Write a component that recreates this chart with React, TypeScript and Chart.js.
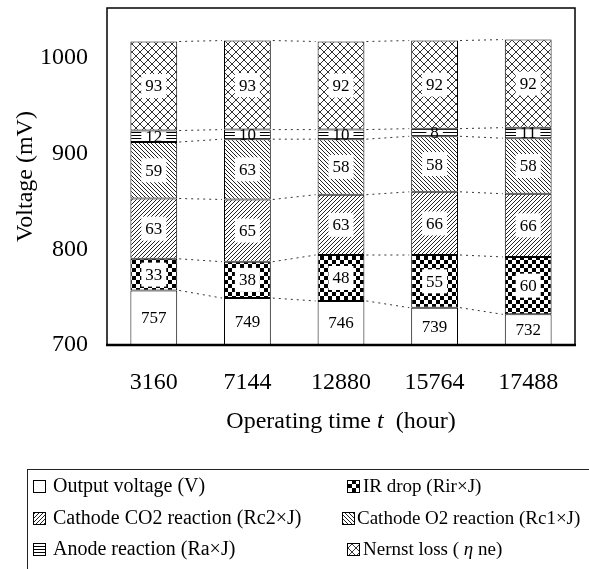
import React, { useEffect, useRef } from 'react';
import { Chart, registerables } from 'chart.js';

Chart.register(...registerables);

const categories = ['3160', '7144', '12880', '15764', '17488'];
const outputVoltage = [757, 749, 746, 739, 732];
const irDrop = [33, 38, 48, 55, 60];
const cathodeCO2 = [63, 65, 63, 66, 66];
const cathodeO2 = [59, 63, 58, 58, 58];
const anodeReaction = [12, 10, 10, 8, 11];
const nernstLoss = [93, 93, 92, 92, 92];
const seriesNames = [
  'Output voltage (V)',
  'IR drop (Rir×J)',
  'Cathode CO2 reaction (Rc2×J)',
  'Cathode O2 reaction (Rc1×J)',
  'Anode reaction (Ra×J)',
  'Nernst loss ( η ne)',
];
const yTickValues = [700, 800, 900, 1000];
const yMin = 700;
const yMax = 1052;
const xTitleParts = [
  { text: 'Operating time ', italic: false },
  { text: 't', italic: true },
  { text: '  (hour)', italic: false },
];
const yTitle = 'Voltage (mV)';

const FONT = '"Liberation Serif", "Times New Roman", serif';

function makePattern(kind: string): CanvasPattern | string {
  if (kind === 'white') return '#ffffff';
  const c = document.createElement('canvas');
  const x = c.getContext('2d') as CanvasRenderingContext2D;
  if (kind === 'checker') {
    c.width = 8; c.height = 8;
    x.fillStyle = '#fff'; x.fillRect(0, 0, 8, 8);
    x.fillStyle = '#000'; x.fillRect(0, 0, 4, 4); x.fillRect(4, 4, 4, 4);
  } else if (kind === 'fwd' || kind === 'back') {
    c.width = 4; c.height = 4;
    x.fillStyle = '#fff'; x.fillRect(0, 0, 4, 4);
    x.strokeStyle = '#222'; x.lineWidth = 1;
    x.beginPath();
    if (kind === 'fwd') {
      x.moveTo(-1, 5); x.lineTo(5, -1);
      x.moveTo(-1, 1); x.lineTo(1, -1);
      x.moveTo(3, 5); x.lineTo(5, 3);
    } else {
      x.moveTo(-1, -1); x.lineTo(5, 5);
      x.moveTo(-1, 3); x.lineTo(1, 5);
      x.moveTo(3, -1); x.lineTo(5, 1);
    }
    x.stroke();
  } else if (kind === 'horiz') {
    c.width = 4; c.height = 3;
    x.fillStyle = '#fff'; x.fillRect(0, 0, 4, 3);
    x.fillStyle = '#000'; x.fillRect(0, 0, 4, 1);
  } else if (kind === 'cross') {
    c.width = 8; c.height = 8;
    x.fillStyle = '#fff'; x.fillRect(0, 0, 8, 8);
    x.strokeStyle = '#333'; x.lineWidth = 1;
    x.beginPath();
    x.moveTo(0, 0); x.lineTo(8, 8);
    x.moveTo(0, 8); x.lineTo(8, 0);
    x.stroke();
  }
  return x.createPattern(c, 'repeat') as CanvasPattern;
}

const segLabels = {
  id: 'segLabels',
  afterDatasetsDraw(chart: any) {
    const ctx = chart.ctx as CanvasRenderingContext2D;
    const area = chart.chartArea;
    ctx.save();
    ctx.font = `17px ${FONT}`;
    ctx.textAlign = 'center';
    ctx.textBaseline = 'middle';
    chart.data.datasets.forEach((ds: any, di: number) => {
      const meta = chart.getDatasetMeta(di);
      meta.data.forEach((el: any, i: number) => {
        const p = el.getProps(['x', 'y', 'base', 'width'], true);
        const top = Math.max(Math.min(p.y, p.base), area.top);
        const bottom = Math.min(Math.max(p.y, p.base), area.bottom);
        const cy = (top + bottom) / 2;
        const text = String(ds.data[i]);
        const tw = ctx.measureText(text).width;
        const bh = Math.max(0, Math.min(24, bottom - top - 3));
        const bw = tw + 8;
        ctx.fillStyle = '#fff';
        ctx.fillRect(p.x - bw / 2, cy - bh / 2, bw, bh);
        ctx.fillStyle = '#000';
        ctx.fillText(text, p.x, cy + 1);
      });
    });
    ctx.restore();
  },
};

const connectors = {
  id: 'connectors',
  afterDatasetsDraw(chart: any) {
    const ctx = chart.ctx as CanvasRenderingContext2D;
    ctx.save();
    ctx.strokeStyle = '#333';
    ctx.lineWidth = 1;
    ctx.setLineDash([2, 4]);
    chart.data.datasets.forEach((_ds: any, di: number) => {
      const meta = chart.getDatasetMeta(di);
      for (let i = 0; i < meta.data.length - 1; i++) {
        const a = meta.data[i].getProps(['x', 'y', 'width'], true);
        const b = meta.data[i + 1].getProps(['x', 'y', 'width'], true);
        ctx.beginPath();
        ctx.moveTo(a.x + a.width / 2 + 2, a.y);
        ctx.lineTo(b.x - b.width / 2 - 2, b.y);
        ctx.stroke();
      }
    });
    ctx.restore();
  },
};

function drawParts(ctx: CanvasRenderingContext2D, parts: { text: string; italic: boolean }[], size: number, x: number, y: number, align: 'left' | 'center') {
  const widths = parts.map((p) => {
    ctx.font = `${p.italic ? 'italic ' : ''}${size}px ${FONT}`;
    return ctx.measureText(p.text).width;
  });
  const total = widths.reduce((s, w) => s + w, 0);
  let cx = align === 'center' ? x - total / 2 : x;
  ctx.textAlign = 'left';
  parts.forEach((p, k) => {
    ctx.font = `${p.italic ? 'italic ' : ''}${size}px ${FONT}`;
    ctx.fillText(p.text, cx, y);
    cx += widths[k];
  });
}

const legendLayout = [
  { ix: 33, tx: 53, y: 486, size: 20 },
  { ix: 347, tx: 363, y: 486, size: 19 },
  { ix: 33, tx: 53, y: 518, size: 20 },
  { ix: 342, tx: 357, y: 518, size: 19 },
  { ix: 33, tx: 53, y: 549, size: 20 },
  { ix: 347, tx: 363, y: 549, size: 19 },
];

const decorations = {
  id: 'decorations',
  afterDraw(chart: any) {
    const ctx = chart.ctx as CanvasRenderingContext2D;
    const area = chart.chartArea;
    ctx.save();
    ctx.strokeStyle = '#000';
    ctx.lineWidth = 1.5;
    ctx.strokeRect(area.left, area.top, area.right - area.left, area.bottom - area.top);
    ctx.lineWidth = 2.5;
    ctx.beginPath();
    ctx.moveTo(area.left - 1, area.bottom);
    ctx.lineTo(area.right + 1, area.bottom);
    ctx.stroke();
    ctx.fillStyle = '#000';
    ctx.textBaseline = 'alphabetic';
    drawParts(ctx, xTitleParts, 24, (area.left + area.right) / 2, 428, 'center');
    ctx.lineWidth = 1;
    ctx.strokeStyle = '#222';
    ctx.strokeRect(27.5, 469.5, 600, 200);
    ctx.textBaseline = 'middle';
    chart.data.datasets.forEach((ds: any, di: number) => {
      const L = legendLayout[di];
      ctx.fillStyle = ds.backgroundColor;
      ctx.fillRect(L.ix, L.y - 6, 13, 13);
      ctx.strokeStyle = '#000';
      ctx.lineWidth = 1;
      ctx.strokeRect(L.ix + 0.5, L.y - 5.5, 12, 12);
      ctx.fillStyle = '#000';
      const label: string = ds.label;
      const eta = label.indexOf('η');
      const parts = eta >= 0
        ? [
            { text: label.slice(0, eta), italic: false },
            { text: 'η', italic: true },
            { text: label.slice(eta + 1), italic: false },
          ]
        : [{ text: label, italic: false }];
      drawParts(ctx, parts, L.size, L.tx, L.y + 1, 'left');
    });
    ctx.restore();
  },
};

export default function App() {
  const ref = useRef<HTMLCanvasElement | null>(null);
  useEffect(() => {
    if (!ref.current) return;
    const fills = ['white', 'checker', 'fwd', 'back', 'horiz', 'cross'].map(makePattern);
    const series = [outputVoltage, irDrop, cathodeCO2, cathodeO2, anodeReaction, nernstLoss];
    const chart = new Chart(ref.current, {
      type: 'bar',
      data: {
        labels: categories,
        datasets: series.map((d, k) => ({
          label: seriesNames[k],
          data: d,
          backgroundColor: fills[k] as any,
          borderColor: '#000',
          borderWidth: 1,
          borderSkipped: false,
          barPercentage: 0.5,
          categoryPercentage: 1,
        })),
      },
      options: {
        responsive: false,
        animation: false,
        events: [],
        layout: { padding: { left: 0, top: 8, right: 14, bottom: 0 } },
        plugins: { legend: { display: false }, tooltip: { enabled: false } },
        scales: {
          x: {
            stacked: true,
            grid: { display: false },
            border: { display: false },
            ticks: { color: '#000', font: { family: FONT, size: 24 }, padding: 15, maxRotation: 0 },
            afterFit: (s: any) => { s.height = 224; s.paddingLeft = 0; s.paddingRight = 0; },
          },
          y: {
            stacked: true,
            min: yMin,
            max: yMax,
            grid: { display: false },
            border: { display: false },
            afterBuildTicks: (s: any) => { s.ticks = yTickValues.map((v) => ({ value: v })); },
            ticks: { color: '#000', font: { family: FONT, size: 24 }, padding: 11, callback: (v: any) => String(v) },
            title: { display: true, text: yTitle, color: '#000', font: { family: FONT, size: 24 }, padding: { top: 11, bottom: 0 } },
            afterFit: (s: any) => { s.width = 107; s.paddingTop = 0; s.paddingBottom = 0; },
          },
        },
      },
      plugins: [connectors, segLabels, decorations],
    });
    return () => chart.destroy();
  }, []);
  return (
    <div style={{ position: 'absolute', left: 0, top: 0, width: 589, height: 569, background: '#fff' }}>
      <canvas ref={ref} width={589} height={569} style={{ display: 'block' }} />
    </div>
  );
}
